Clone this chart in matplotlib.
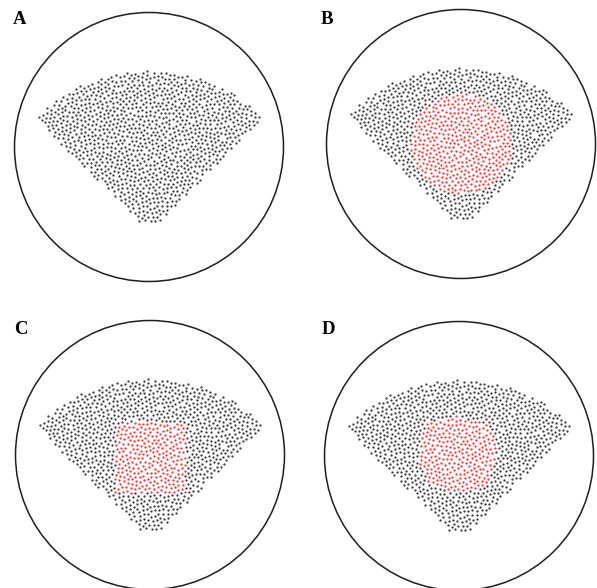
import numpy as np
import matplotlib
matplotlib.use("Agg")
import matplotlib.pyplot as plt
from matplotlib.patches import Circle

# ---- geometry (units: radius of the outer circle = 1) ----
panel_labels = ["A", "B", "C", "D"]
# circle centres in pixels (x, y from top-left) and the outer radius
panel_centres_px = [(149, 147), (461, 144), (150, 455), (459, 456)]
outer_radius_px = 134.5

# fan-shaped scan sector
apex_y = -0.63          # virtual apex below the circle centre
sector_r_min = 0.075
sector_r_max = 1.20
sector_half_angle_deg = 45.0
node_spacing = 0.032    # typical distance between neighbouring nodes

# highlighted regions
disc_centre = (0.0, 0.0)
disc_radius = 0.375
square_centre = (0.0, -0.02)
square_half = 0.26
blob_centre = (-0.015, 0.007)
blob_angles_deg = [0, 22, 45, 68, 80, 90, 100, 112, 135, 158, 180,
                   202, 225, 248, 270, 292, 315, 338, 360]
blob_radii = [0.285, 0.30, 0.325, 0.27, 0.27, 0.31, 0.26, 0.28, 0.33, 0.29,
              0.29, 0.28, 0.29, 0.27, 0.28, 0.28, 0.30, 0.28, 0.285]

GREY = "#3c3c3c"
RED = "#f23a3a"


def halton(n, base):
    out = np.zeros(n)
    for i in range(n):
        f, k, x = 1.0, i + 1, 0.0
        while k > 0:
            f /= base
            x += f * (k % base)
            k //= base
        out[i] = x
    return out


def in_sector(x, y):
    half = np.radians(sector_half_angle_deg)
    dy = y - apex_y
    r = np.hypot(x, dy)
    th = np.arctan2(dy, x)
    return (r >= sector_r_min) & (r <= sector_r_max) & \
           (np.abs(th - np.pi / 2) <= half)


def sector_nodes(iters=30):
    # fill a box around the sector, even out the spacing, then cut the fan
    x0, x1 = -0.95, 0.95
    y0, y1 = apex_y - 0.05, apex_y + sector_r_max + 0.05
    n = int((x1 - x0) * (y1 - y0) / node_spacing ** 2)
    x = x0 + (x1 - x0) * halton(n, 2)
    y = y0 + (y1 - y0) * halton(n, 3)
    dmin = 1.0 * node_spacing
    for _ in range(iters):
        dx = x[:, None] - x[None, :]
        dy = y[:, None] - y[None, :]
        d = np.hypot(dx, dy)
        np.fill_diagonal(d, np.inf)
        push = np.where(d < dmin, (dmin - d) / d, 0.0) * 0.25
        x = np.clip(x + (push * dx).sum(axis=1), x0, x1)
        y = np.clip(y + (push * dy).sum(axis=1), y0, y1)
    keep = in_sector(x, y)
    return x[keep], y[keep]


def in_disc(x, y):
    return (x - disc_centre[0]) ** 2 + (y - disc_centre[1]) ** 2 <= disc_radius ** 2


def in_square(x, y):
    return (np.abs(x - square_centre[0]) <= square_half) & \
           (np.abs(y - square_centre[1]) <= square_half)


def in_blob(x, y):
    dx, dy = x - blob_centre[0], y - blob_centre[1]
    ang = np.degrees(np.arctan2(dy, dx)) % 360
    rr = np.interp(ang, blob_angles_deg, blob_radii)
    return np.hypot(dx, dy) <= rr


x, y = sector_nodes()
masks = [np.zeros_like(x, dtype=bool), in_disc(x, y), in_square(x, y), in_blob(x, y)]

W, H = 597, 588
fig = plt.figure(figsize=(W / 100, H / 100), dpi=100)
lim = 1.06
half_px = lim * outer_radius_px

for label, (cx, cy), mask in zip(panel_labels, panel_centres_px, masks):
    ax = fig.add_axes([(cx - half_px) / W, 1 - (cy + half_px) / H,
                       2 * half_px / W, 2 * half_px / H])
    ax.set_xlim(-lim, lim)
    ax.set_ylim(-lim, lim)
    ax.axis("off")
    ax.add_patch(Circle((0, 0), 1.0, fill=False, edgecolor="#1e1e1e",
                        linewidth=1.1, clip_on=False))
    ax.scatter(x[~mask], y[~mask], s=2.7, c=GREY, linewidths=0)
    ax.scatter(x[mask], y[mask], s=2.7, c=RED, linewidths=0)

label_pos_px = [(20, 19), (327, 19), (21, 329), (328, 329)]
for label, (lx, ly) in zip(panel_labels, label_pos_px):
    fig.text(lx / W, 1 - ly / H, label, ha="center", va="center",
             fontsize=13.5, fontweight="bold", family="Liberation Serif")

fig.savefig("out.png", dpi=100)
